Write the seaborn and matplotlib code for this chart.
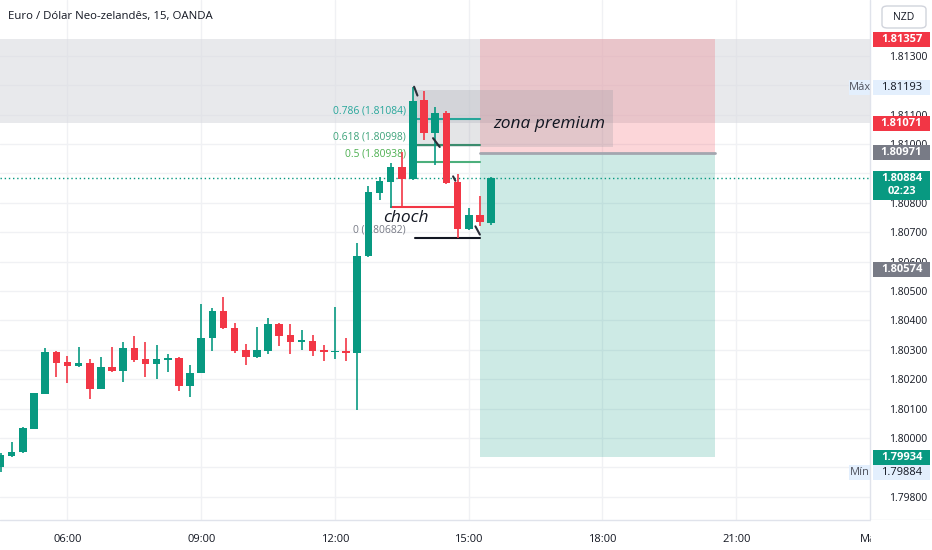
import numpy as np
import pandas as pd
import matplotlib
matplotlib.use("Agg")
import matplotlib.pyplot as plt
import matplotlib.transforms as mtransforms
from matplotlib.patches import FancyBboxPatch, Rectangle
import seaborn as sns

# ---- data (EUR/NZD, 15 min candles from 04:30 to 15:30) ----
opens = [1.79901, 1.79939, 1.79952, 1.80031, 1.80150, 1.80292, 1.80258, 1.80245, 1.80255, 1.80167,
         1.80241, 1.80228, 1.80306, 1.80269, 1.80252, 1.80265, 1.80272, 1.80177, 1.80221, 1.80340,
         1.80432, 1.80374, 1.80299, 1.80275, 1.80296, 1.80388, 1.80350, 1.80326, 1.80330, 1.80299,
         1.80292, 1.80296, 1.80289, 1.80619, 1.80833, 1.80870, 1.80921, 1.80881, 1.81149, 1.81037,
         1.81105, 1.80870, 1.80711, 1.80758, 1.80731]
highs = [1.79949, 1.79986, 1.80037, 1.80154, 1.80306, 1.80296, 1.80279, 1.80309, 1.80269, 1.80275,
         1.80309, 1.80326, 1.80347, 1.80326, 1.80316, 1.80286, 1.80275, 1.80248, 1.80456, 1.80442,
         1.80479, 1.80391, 1.80320, 1.80377, 1.80408, 1.80391, 1.80388, 1.80367, 1.80350, 1.80316,
         1.80445, 1.80340, 1.80663, 1.80857, 1.80887, 1.80935, 1.80972, 1.81193, 1.81180, 1.81125,
         1.81112, 1.80898, 1.80782, 1.80823, 1.80888]
lows = [1.79884, 1.79936, 1.79949, 1.80030, 1.80148, 1.80207, 1.80187, 1.80241, 1.80133, 1.80165,
        1.80226, 1.80190, 1.80258, 1.80207, 1.80201, 1.80224, 1.80160, 1.80139, 1.80220, 1.80296,
        1.80372, 1.80289, 1.80248, 1.80273, 1.80286, 1.80313, 1.80286, 1.80299, 1.80279, 1.80262,
        1.80269, 1.80262, 1.80095, 1.80617, 1.80809, 1.80782, 1.80782, 1.80879, 1.81013, 1.80928,
        1.80865, 1.80682, 1.80709, 1.80721, 1.80724]
closes = [1.79942, 1.79952, 1.80034, 1.80153, 1.80292, 1.80255, 1.80245, 1.80255, 1.80167, 1.80241,
          1.80228, 1.80306, 1.80265, 1.80252, 1.80269, 1.80272, 1.80177, 1.80221, 1.80340, 1.80432,
          1.80374, 1.80296, 1.80275, 1.80299, 1.80388, 1.80347, 1.80326, 1.80333, 1.80296, 1.80292,
          1.80296, 1.80289, 1.80619, 1.80837, 1.80874, 1.80921, 1.80881, 1.81146, 1.81037, 1.81105,
          1.80867, 1.80711, 1.80758, 1.80735, 1.80884]

time_ticks = ["06:00", "09:00", "12:00", "15:00", "18:00", "21:00", "Mai"]
# 1.799, 1.809 and 1.812 sit under the price tags, as in the terminal
price_ticks = [1.798, 1.800, 1.801, 1.802, 1.803, 1.804, 1.805, 1.806, 1.807,
               1.808, 1.810, 1.811, 1.813]
grid_prices = [1.798, 1.799, 1.800, 1.801, 1.802, 1.803, 1.804, 1.805, 1.806, 1.807,
               1.808, 1.809, 1.810, 1.811, 1.812, 1.813]

fib_levels = [0.786, 0.618, 0.5, 0.0]
fib_low, fib_high = 1.80682, 1.81193
entry, stop, target = 1.80971, 1.81357, 1.79934
band_low, band_high = 1.81071, 1.81357
premium_low, premium_high = 1.80990, 1.81184
choch_price = 1.80786
last_price = 1.80884
other_level = 1.80574

df = pd.DataFrame({"open": opens, "high": highs, "low": lows, "close": closes})
df["idx"] = np.arange(len(df))
df["up"] = df["close"] >= df["open"]

GREEN = "#089981"
RED = "#f23645"
TXT = "#131722"
PX = 1 / 29400  # one pixel in price units

sns.set_theme(style="white")
plt.rcParams["font.family"] = ["Open Sans", "DejaVu Sans"]

fig = plt.figure(figsize=(9.32, 5.5), dpi=100)
ax = fig.add_axes([0, 30 / 550, 870 / 932, 520 / 550])
ax.set_xlim(-0.05, 77.9)
ax.set_ylim(1.79721, 1.81490)

# grid
for p in grid_prices:
    ax.axhline(p, color="#f0f1f4", lw=1, zorder=0)
for k in range(6):
    ax.axvline(6 + 12 * k, color="#f0f1f4", lw=1, zorder=0)

# gray band across the chart
ax.axhspan(band_low, band_high, color="#d9dbe0", alpha=0.6, lw=0, zorder=1)

# short position tool
z0, z1 = 43, 64.1
ax.fill_between([z0, z1], entry, stop, color=RED, alpha=0.2, lw=0, zorder=1)
ax.fill_between([z0, z1], target, entry, color=GREEN, alpha=0.2, lw=0, zorder=1)
ax.plot([z0, z1], [entry, entry], color="#a3a6af", lw=2, zorder=2)

# zona premium box
ax.fill_between([37, 54.9], premium_low, premium_high, color="#9598a1", alpha=0.25, lw=0, zorder=2)
ax.text(44.2, 1.81068, "zona premium", fontsize=12.5, style="italic", color=TXT,
        va="center", ha="left", zorder=6)

# fibonacci retracement
fib_line_colors = ["#26a69a", "#3b8c6e", "#4caf7c", "#131722"]
fib_text_colors = ["#26a69a", "#3da37a", "#4caf50", "#787b86"]
for lvl, lc, tc in zip(fib_levels, fib_line_colors, fib_text_colors):
    price = fib_low + lvl * (fib_high - fib_low)
    ax.plot([37.2, 43], [price, price], color=lc, lw=1.5, zorder=3)
    lab = f"{lvl:g} ({price:.5f})"
    ax.text(36.35, price + 8 * PX, lab, color=tc, fontsize=7.4, ha="right", va="center", zorder=2)

# choch
ax.plot([35, 40.8], [choch_price, choch_price], color=RED, lw=1.5, zorder=3)
ax.text(34.3, choch_price - 0.00037, "choch", fontsize=12.5, style="italic", color=TXT,
        va="center", ha="left", zorder=6)

# small black zigzag ticks
for xa, ya, xb, yb in [(37.1, 1.81195, 37.4, 1.81165), (38.8, 1.81020, 39.4, 1.80990),
                       (40.6, 1.80890, 40.8, 1.80875), (42.6, 1.80720, 43.0, 1.80692)]:
    ax.plot([xa, xb], [ya, yb], color="#2a2e39", lw=1.5, zorder=5)

# current price dotted line
ax.axhline(last_price, color=GREEN, lw=1, ls=(0, (1, 2)), zorder=2)

# candles
cols = np.where(df["up"], GREEN, RED)
ax.vlines(df["idx"], df["low"], df["high"], colors=cols, lw=1.2, zorder=4)
diff = df["close"] - df["open"]
body = diff.where(diff.abs() > 1.2 * PX, np.where(diff >= 0, 1.2 * PX, -1.2 * PX))
ax.bar(df["idx"], body, bottom=df["open"], width=0.68, color=cols, lw=0, zorder=4)

# axes styling
sns.despine(ax=ax, left=True, top=True, right=True, bottom=True)
ax.set_xticks([6 + 12 * k for k in range(7)])
ax.set_xticklabels(time_ticks, fontsize=8, color=TXT)
ax.tick_params(axis="x", length=0, pad=10)
ax.yaxis.tick_right()
ax.set_yticks(price_ticks)
ax.set_yticklabels([f"{p:.5f}" for p in price_ticks], fontsize=7.5, color=TXT)
ax.tick_params(axis="y", length=0, pad=14)

# right price panel / separators
fig.add_artist(plt.Line2D([870 / 932, 870 / 932], [30 / 550, 1], color="#e0e3eb", lw=1))
fig.add_artist(plt.Line2D([0, 1], [30 / 550, 30 / 550], color="#e0e3eb", lw=1))
cover = Rectangle((871 / 932, 0), 61 / 932, 30 / 550, transform=fig.transFigure,
                  color="white", zorder=10)
fig.add_artist(cover)

trans = mtransforms.blended_transform_factory(ax.transAxes, ax.transData)


def price_tag(price, text, fc, tc="white", bold=True, h=15, x0=873, x1=930):
    ax.add_patch(Rectangle((x0 / 870, price - h / 2 * PX), (x1 - x0) / 870, h * PX,
                           transform=trans, fc=fc, ec="none", clip_on=False, zorder=11))
    ax.text((x0 + x1) / 2 / 870, price, text, transform=trans, fontsize=8, color=tc,
            ha="center", va="center", fontweight="bold" if bold else "normal",
            clip_on=False, zorder=12, linespacing=1.25)


price_tag(stop, "1.81357", RED)
price_tag(band_low, "1.81071", RED)
price_tag(entry, "1.80971", "#787b86")
price_tag(last_price - 7 * PX, "1.80884\n02:23", GREEN, h=29)
price_tag(other_level, "1.80574", "#787b86")
price_tag(target, "1.79934", GREEN)
price_tag(fib_high, "1.81193", "#e3effd", TXT, bold=False)
price_tag(1.79884, "1.79884", "#e3effd", TXT, bold=False)
price_tag(fib_high, "Máx", "#e3effd", "#50535e", bold=False, x0=849, x1=871)
price_tag(1.79884, "Mín", "#e3effd", "#50535e", bold=False, x0=849, x1=871)

# title and currency badge
fig.text(8 / 932, 1 - 16 / 550, "Euro / Dólar Neo-zelandês, 15, OANDA", fontsize=8.2,
         color=TXT, va="center", ha="left")
badge = FancyBboxPatch((882 / 932, 1 - 28 / 550), 44 / 932, 22 / 550, transform=fig.transFigure,
                       boxstyle="round,pad=0,rounding_size=0.006", fc="white", ec="#d1d4dc", lw=1)
fig.add_artist(badge)
fig.text(904 / 932, 1 - 17 / 550, "NZD", fontsize=7.5, color=TXT, ha="center", va="center")

fig.savefig("out.png", dpi=100)
